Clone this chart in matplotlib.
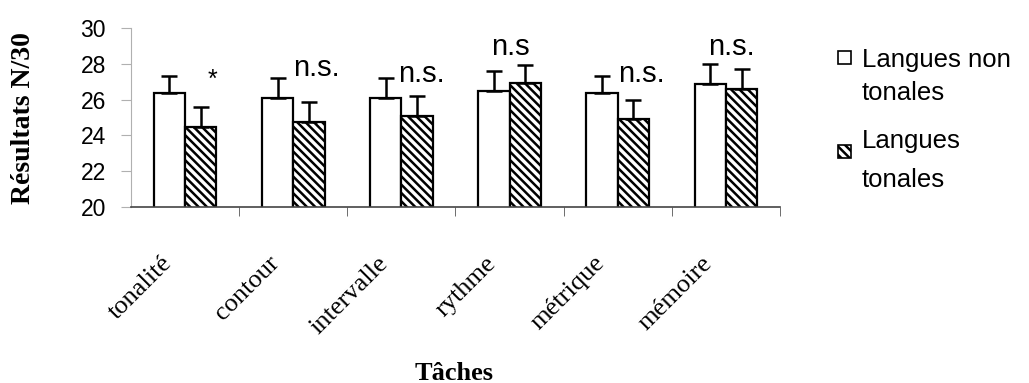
import numpy as np
import matplotlib
matplotlib.use("Agg")
import matplotlib.pyplot as plt
import matplotlib.transforms as mtransforms
from matplotlib.patches import Rectangle

# Data
taches = ["tonalité", "contour", "intervalle", "rythme", "métrique", "mémoire"]
non_tonales = [26.37, 26.1, 26.1, 26.5, 26.35, 26.85]
non_tonales_err = [0.95, 1.1, 1.1, 1.1, 0.95, 1.15]
tonales = [24.47, 24.75, 25.1, 26.9, 24.9, 26.6]
tonales_err = [1.12, 1.1, 1.1, 1.05, 1.1, 1.1]
signif = ["*", "n.s.", "n.s.", "n.s", "n.s.", "n.s."]
signif_y = [27.1, 27.32, 26.98, 28.49, 26.98, 28.49]
signif_dx = [0.25, 0.21, 0.185, 0.01, 0.22, 0.055]

plt.rcParams["hatch.linewidth"] = 1.8

fig = plt.figure(figsize=(10.29, 3.83), dpi=100)
ax = fig.add_axes([0.1273, 0.4595, 0.6307, 0.4674])

x = np.arange(len(taches))
w = 0.29
zeros = np.zeros(len(taches))
ekw = dict(elinewidth=1.8, capthick=1.8, ecolor="black")

ax.bar(x - w / 2, non_tonales, w, color="white", edgecolor="black", linewidth=1.6,
       yerr=[zeros, non_tonales_err], capsize=6, error_kw=ekw, zorder=2)
ax.bar(x + w / 2, tonales, w, color="white", edgecolor="black", linewidth=1.6,
       hatch="\\\\\\\\", yerr=[zeros, tonales_err], capsize=6, error_kw=ekw, zorder=2)

# significance marks
for i, s in enumerate(signif):
    if s == "*":
        ax.text(x[i] + signif_dx[i], signif_y[i], s, ha="center", va="center",
                fontsize=18, family="Liberation Sans")
    else:
        ax.text(x[i] + signif_dx[i], signif_y[i], s, ha="center", va="baseline",
                fontsize=21, family="Liberation Sans")

ax.set_ylim(20, 30)
ax.set_xlim(-0.5, len(taches) - 0.5)
ax.set_yticks(np.arange(20, 31, 2))
ax.set_yticklabels([str(v) for v in range(20, 31, 2)], fontsize=16.5, family="Liberation Sans")
ax.tick_params(axis="y", direction="out", length=7, color="#b0b0b0", pad=11)

ax.set_xticks(x)
ax.set_xticklabels(taches, rotation=45, ha="right", va="center", rotation_mode="anchor",
                   fontsize=19, family="Liberation Serif")
ax.tick_params(axis="x", which="major", length=0, pad=38)
shift = mtransforms.ScaledTranslation(-0.17, 0, fig.dpi_scale_trans)
for lab in ax.get_xticklabels():
    lab.set_transform(lab.get_transform() + shift)
ax.set_xticks(np.arange(0.5, len(taches), 1), minor=True)
ax.tick_params(axis="x", which="minor", direction="out", length=6.5, color="#555555")

for side in ["top", "right"]:
    ax.spines[side].set_visible(False)
ax.spines["left"].set_color("#b0b0b0")
ax.spines["bottom"].set_color("#444444")
ax.spines["bottom"].set_linewidth(1.2)

fig.text(0.0233, 0.693, "Résultats N/30", rotation=90, fontsize=20, fontweight="bold",
         family="Liberation Serif", ha="center", va="center")
fig.text(0.441, 0.055, "Tâches", fontsize=19, fontweight="bold", family="Liberation Serif",
         ha="center", va="top")

# legend drawn by hand: square aligned with the first line of each label
W, H = 1029.0, 383.0
legend_entries = [("", ["Langues non", "tonales"], 51, [67, 100]),
                  ("\\\\\\\\", ["Langues", "tonales"], 145, [148, 187])]
for hatch, lines, sq_top, baselines in legend_entries:
    fig.patches.append(Rectangle((838 / W, 1 - (sq_top + 13) / H), 13 / W, 13 / H,
                                 transform=fig.transFigure, facecolor="white",
                                 edgecolor="black", linewidth=1.2, hatch=hatch))
    for line, b in zip(lines, baselines):
        fig.text(862 / W, 1 - b / H, line, fontsize=18.5, family="Liberation Sans",
                 ha="left", va="baseline")

fig.savefig("out.png", dpi=100)
